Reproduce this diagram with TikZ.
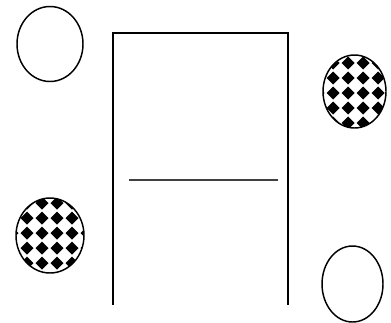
\documentclass[tikz,border=0pt]{standalone}
\usetikzlibrary{shapes.geometric}
\begin{document}
\begin{tikzpicture}[x=0.75pt,y=-0.75pt,
  oval/.style={ellipse,draw=black,line width=1.1pt,inner sep=0pt,fill=white},
  checker/.style 2 args={path picture={
    \begin{scope}[shift={(path picture bounding box.center)}]
      \foreach \i in {-3,...,3}{\foreach \j in {-3,...,3}{
        \fill[black] (\i*15+#1,\j*15+#2) ++(0,-6.5) -- ++(6.5,6.5) -- ++(-6.5,6.5) -- ++(-6.5,-6.5) -- cycle;}}
    \end{scope}}},
  frame/.style={line width=1.5pt,line cap=butt},
  rulel/.style={line width=1pt,draw=black!75}]
\useasboundingbox (0,0) rectangle (391,322);
\node[oval,minimum width=49.5pt,minimum height=56.25pt] (o1) at (50,44) {};
\node[oval,checker={8.5}{1.5},minimum width=47.25pt,minimum height=54.75pt] (o2) at (354.5,91.5) {};
\node[oval,checker={7}{-2.5},minimum width=51pt,minimum height=56.25pt] (o3) at (50,235.5) {};
\node[oval,minimum width=45.75pt,minimum height=57pt] (o4) at (352.5,284) {};
\coordinate (bl) at (113,305);
\coordinate (tl) at (113,33);
\coordinate (tr) at (288,33);
\coordinate (br) at (288,305);
\draw[frame] (bl) -- (tl) -- (tr) -- (br);
\coordinate (la) at (129,180);
\coordinate (lb) at (278,180);
\draw[rulel] (la) -- (lb);
\end{tikzpicture}
\end{document}
